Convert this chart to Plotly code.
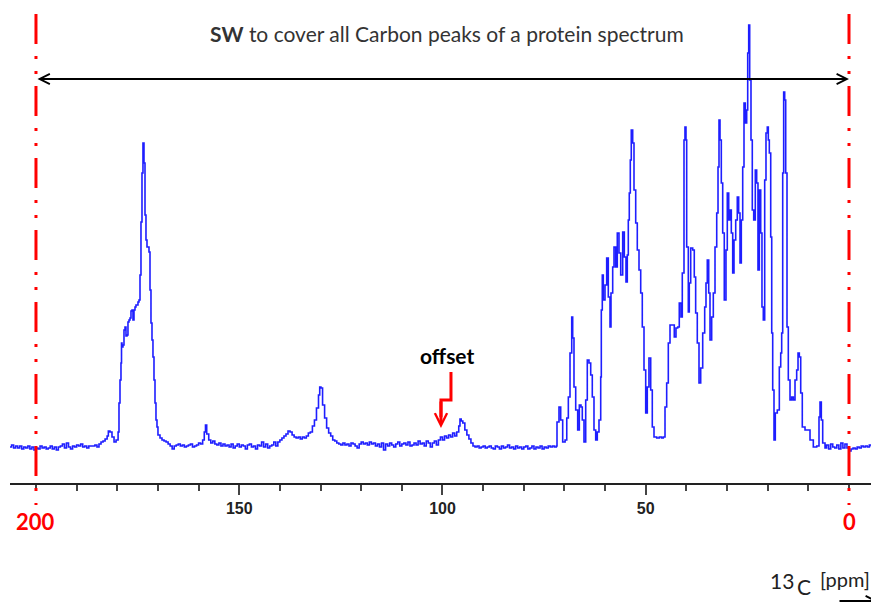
import plotly.graph_objects as go

# ---------------- data ----------------
# Region 1: carbonyl / aromatic region, 206.5 .. 125 ppm
ppm_region1 = [
    206.5, 206.0, 205.5, 205.0, 204.5, 204.0, 203.5, 203.0, 202.5, 202.0, 201.5, 201.0,
    200.5, 200.0, 199.5, 199.0, 198.5, 198.0, 197.5, 197.0, 196.5, 196.0, 195.5, 195.0,
    194.5, 194.0, 193.5, 193.0, 192.5, 192.0, 191.5, 191.0, 190.5, 190.0, 189.5, 189.0,
    188.5, 188.0, 187.5, 187.0, 186.5, 186.0, 185.5, 185.0, 184.5,
    184.0, 183.5, 183.0, 182.5, 182.2, 181.8, 181.3, 180.8, 180.3, 179.8,
    179.58, 179.33, 179.09, 178.96, 178.84, 178.60, 178.35, 178.10, 177.86, 177.61,
    177.37, 177.12, 176.87, 176.63, 176.38, 176.14, 175.89, 175.64, 175.40, 174.91,
    174.66, 174.41, 174.17, 173.92, 173.68, 173.43, 173.18, 172.94, 172.69, 172.20,
    171.95, 171.71, 171.46, 171.22, 170.97, 170.72, 170.48, 170.23, 169.99, 169.49, 169.00,
    168.5, 168.0, 167.5, 167.0, 166.5, 166.0, 165.5, 165.0, 164.5, 164.0, 163.5, 163.0,
    162.5, 162.0, 161.5, 161.0, 160.5, 160.0, 159.5, 159.0, 158.6, 158.3, 158.0, 157.5,
    157.0, 156.5, 156.0, 155.5, 155.0, 154.5, 154.0, 153.5, 153.0, 152.5, 152.0, 151.5,
    151.0, 150.5, 150.0, 149.5, 149.0, 148.5, 148.0, 147.5, 147.0, 146.5, 146.0, 145.5,
    145.0, 144.5, 144.0, 143.5, 143.0, 142.5, 142.0, 141.5, 141.0, 140.5, 140.0, 139.5,
    139.0, 138.5, 138.0, 137.5, 137.0, 136.5, 136.0, 135.5, 135.0, 134.5, 134.0, 133.5,
    133.0, 132.5, 132.0, 131.5, 131.0, 130.5, 130.2, 129.9, 129.5, 129.0, 128.5, 128.0,
    127.5, 127.0, 126.5, 126.0, 125.5, 125.0,
]
int_region1 = [
    0, 2, -1, 1, -1, 1, -2, 0, -1, 1, -2, 0,
    -3, -1, -2, 1, -1, 0, -2, -1, 1, -2, 0, -3,
    0, 1, 3, -1, 4, 0, -2, 1, 0, 2, 1, 3,
    0, 1, -1, 1, 1, 1, 2, 0, 3,
    5, 6, 8, 11, 16, 15, 10, 5, 7, 15,
    44, 67, 84, 104, 100, 102, 117, 120, 111, 112,
    125, 127, 129, 136, 137, 127, 137, 140, 142, 145,
    147, 172, 225, 274, 304, 284, 232, 207, 200, 195,
    157, 124, 107, 90, 67, 44, 27, 20, 12, 9, 7,
    6, 5, 3, 1, -2, 1, 2, 3, 1, 2, 0, 1,
    2, 3, 0, 1, 2, 4, 3, 7, 15, 22, 13, 7,
    4, 6, 3, 2, 4, 1, 3, 1, 2, 0, 3, -1,
    1, 3, 0, 2, 1, -2, 2, 3, 0, 1, -2, 2,
    1, 5, 0, 3, -1, 1, 2, 5, 1, 5, 7, 9,
    11, 13, 16, 15, 12, 10, 9, 10, 8, 10, 9, 11,
    14, 15, 21, 27, 39, 52, 60, 59, 42, 29, 19, 14,
    11, 7, 6, 4, 3, 2,
]

# Region 2: 124.5 .. 72 ppm (noise + small peak near 95 ppm)
ppm_region2 = [
    124.5, 124.0, 123.5, 123.0, 122.5, 122.0, 121.5, 121.0, 120.5, 120.0, 119.5, 119.0,
    118.5, 118.0, 117.5, 117.0, 116.5, 116.0, 115.5, 115.0, 114.5, 114.0, 113.5, 113.0,
    112.5, 112.0, 111.5, 111.0, 110.5, 110.0, 109.5, 109.0, 108.5, 108.0, 107.5, 107.0,
    106.5, 106.0, 105.5, 105.0, 104.5, 104.0, 103.5, 103.0, 102.5, 102.0, 101.5, 101.0,
    100.5, 100.0, 99.5, 99.0, 98.5, 98.0, 97.5, 97.0, 96.5, 96.0, 95.7, 95.4,
    95.0, 94.5, 94.0, 93.5, 93.0, 92.5, 92.0,
    91.5, 91.0, 90.5, 90.0, 89.5, 89.0, 88.5, 88.0, 87.5, 87.0, 86.5, 86.0,
    85.5, 85.0, 84.5, 84.0, 83.5, 83.0, 82.5, 82.0, 81.5, 81.0, 80.5, 80.0,
    79.5, 79.0, 78.5, 78.0, 77.5, 77.0, 76.5, 76.0, 75.5, 75.0, 74.5, 74.0,
    73.5, 73.0, 72.5, 72.0,
]
int_region2 = [
    4, 2, 3, 1, 4, 3, 1, -1, 3, 5, 3, 4,
    2, 5, 3, 4, 1, 3, 0, 4, -3, 3, 1, 4,
    2, 0, 3, 5, 1, 3, 4, 2, 5, 1, 2, 4,
    2, 6, 3, 4, 1, 6, 4, 0, 4, 6, 2, 7,
    10, 7, 11, 9, 12, 10, 14, 11, 15, 21, 28, 26,
    24, 17, 12, 8, 4, 1, 0,
    1, -1, 0, 1, -1, 0, 1, -1, -2, 1, 0, -2,
    1, -1, 0, 2, -1, 0, -2, 1, -1, 0, -2, 0,
    1, -2, -1, 1, -2, 0, -1, 1, -2, 0, -1, 1,
    0, 1, 0, 1,
]

# Region 3: aliphatic region, 71.8 .. -7.5 ppm
ppm_region3 = [
    71.83, 71.34, 70.92, 70.43, 69.84, 69.43, 69.04, 68.63, 68.21, 67.97, 67.65, 67.23,
    66.74, 66.34, 65.93, 65.61, 65.19, 64.77, 64.38, 63.96, 63.54, 63.15, 62.73, 62.31,
    61.92, 61.50, 61.08, 60.93, 60.69, 60.44, 60.02, 59.61, 59.21, 58.79, 58.55, 58.13,
    57.81, 57.39, 57.00, 56.58, 56.16, 55.67, 55.27, 54.86, 54.54, 54.29, 54.05, 53.80,
    53.56, 53.21, 52.89, 52.47, 52.08, 51.66, 51.24, 50.85, 50.43, 50.01, 49.62, 49.21,
    48.78, 48.39, 47.97, 47.30, 46.67, 46.12, 45.68, 45.26, 44.85, 44.45, 44.03, 43.37,
    42.98, 42.56, 42.14, 41.75, 41.33, 41.01, 40.59, 40.35, 40.10, 39.93, 39.53, 39.29,
    38.94, 38.45, 38.06, 37.72, 37.32, 36.90, 36.48, 35.99, 35.50, 35.18, 34.86, 34.51,
    34.19, 33.78, 33.38, 32.96, 32.54, 32.22, 31.98, 31.73, 31.41, 31.07, 30.68, 30.26,
    29.94, 29.59, 29.27, 28.95, 28.61, 28.29, 27.87, 27.48, 27.14, 26.81, 26.49, 26.15,
    25.83, 25.51, 25.17, 24.92, 24.67, 24.43, 24.11, 23.79, 23.44, 23.05, 22.71, 22.39,
    22.06, 21.72, 21.41, 21.08, 20.74, 20.42, 20.10, 19.85, 19.60, 19.26, 19.01, 18.77,
    18.45, 18.13, 17.64, 17.14, 16.80, 16.56, 16.31, 16.07, 15.82, 15.57, 15.25, 14.93,
    14.51, 14.10, 13.70, 13.28, 12.87, 12.54, 12.22, 11.88, 11.49, 10.82, 10.01, 9.59,
    8.78, 7.94, 7.38, 7.13, 6.81, 6.47, 5.90,
    5.5, 5.0, 4.5, 4.0, 3.5, 3.0, 2.5, 2.0, 1.5, 1.0, 0.5, 0.0,
    -0.5, -1.0, -1.5, -2.0, -2.5, -3.0, -3.5, -4.0, -4.5, -5.0, -5.5, -6.0,
    -6.5, -7.0, -7.5,
]
int_region3 = [
    25, 40, 27, 5, 7, 29, 50, 94, 130, 109, 60, 37,
    17, 42, 40, 27, 5, 47, 87, 84, 72, 50, 17, 7,
    15, 27, 70, 137, 172, 147, 162, 189, 150, 120, 154, 180,
    200, 180, 214, 194, 172, 215, 190, 165, 192, 227, 254, 287,
    317, 304, 257, 224, 197, 177, 154, 120, 77, 34, 60, 89,
    57, 20, 10, 9, 10, 9, 10, 40, 64, 104, 122, 122,
    110, 119, 120, 144, 130, 174, 307, 320, 307, 200, 135, 164,
    199, 197, 170, 134, 104, 64, 79, 114, 140, 164, 187, 154,
    107, 130, 154, 200, 234, 280, 327, 307, 264, 214, 147, 197,
    254, 227, 237, 214, 174, 207, 227, 250, 234, 184, 227, 280,
    344, 324, 337, 394, 422, 367, 307, 237, 227, 277, 264, 177,
    257, 214, 140, 127, 267, 314, 320, 307, 294, 210, 114, 57,
    7, 34, 37, 80, 94, 114, 274, 355, 347, 274, 120, 67,
    47, 50, 47, 67, 77, 94, 90, 54, 20, 17, 17, 7,
    0, 1, 30, 45, 27, 4, -1,
    2, -2, 3, 0, -1, 2, -2, 4, -1, 3, -1, -4,
    -2, -1, -2, 0, -1, 1, 0, 1, 0, 2, 1, 3,
    1, 2, 0,
]

major_ticks = [150, 100, 50]
minor_ticks = [200, 190, 180, 170, 160, 150, 140, 130, 120, 110, 100, 90, 80,
               70, 60, 50, 40, 30, 20, 10, 0]
sw_limits = [200, 0]          # spectral width borders (ppm)
offset_ppm = 100              # carrier offset (ppm)

ppm = ppm_region1 + ppm_region2 + ppm_region3
intensity = int_region1 + int_region2 + int_region3

# ---------------- figure ----------------
# The page body has an 8px default margin; the figure is sized so that the
# plot area spans page pixels x 10..879 and y 8..483.
fig = go.Figure()
fig.add_trace(go.Scatter(
    x=ppm, y=intensity, mode="lines",
    line=dict(color="rgb(30,30,255)", width=1.6, shape="hv"),
    hoverinfo="skip", showlegend=False,
))

CAL = "Lato, 'Open Sans', sans-serif"
ARI = "'Liberation Sans', Arial, sans-serif"

PW, PH = 869.0, 475.0   # plot area size in px


def px(x):   # page x pixel -> paper
    return (x - 10) / PW


def py(y):   # page y pixel -> paper
    return (483 - y) / PH


fig.update_layout(
    width=871, height=594,
    margin=dict(l=2, r=0, t=0, b=119, pad=0),
    paper_bgcolor="white", plot_bgcolor="white",
    showlegend=False,
    xaxis=dict(
        range=[206.39, -7.38], autorange=False,
        showgrid=False, zeroline=False,
        showline=True, linecolor="#222", linewidth=2,
        ticks="outside", ticklen=10, tickwidth=2, tickcolor="#444",
        tickmode="array", tickvals=major_ticks,
        ticktext=["<b>%d</b>" % v for v in major_ticks],
        tickfont=dict(family=ARI, size=16, color="#222"),
        minor=dict(ticks="outside", tickmode="array", tickvals=minor_ticks,
                   ticklen=6, tickwidth=2, tickcolor="#444"),
        automargin=False,
    ),
    yaxis=dict(range=[-36, 439], autorange=False, visible=False),
)

# red dash-dot-dot spectral-width borders
for v in sw_limits:
    fig.add_shape(type="line", xref="x", yref="paper",
                  x0=v, x1=v, y0=py(14), y1=py(505),
                  line=dict(color="red", width=3, dash="30px,12px,3px,12px,3px,12px"))

# double arrow covering SW
fig.add_annotation(x=sw_limits[1], y=368, ax=sw_limits[0], ay=368,
                   xref="x", yref="y", axref="x", ayref="y",
                   text="", showarrow=True, arrowside="end+start",
                   arrowhead=5, arrowsize=1, arrowwidth=2, arrowcolor="black",
                   standoff=0, startstandoff=0)

fig.add_annotation(xref="paper", yref="paper", x=px(447.5), y=py(33),
                   xanchor="center", yanchor="middle",
                   text="<b>SW</b> to cover all Carbon peaks of a protein spectrum",
                   showarrow=False, font=dict(family=CAL, size=21, color="#333"))

# offset marker
fig.add_shape(type="path", xref="x", yref="y",
              path="M 97.91,75 V 47 H 100.37 V 30",
              line=dict(color="red", width=3))
fig.add_annotation(x=100.37, y=19, ax=100.37, ay=47,
                   xref="x", yref="y", axref="x", ayref="y",
                   text="", showarrow=True, arrowhead=5, arrowsize=0.8,
                   arrowwidth=3, arrowcolor="red", standoff=0, startstandoff=0)
fig.add_annotation(x=98.9, y=92, xref="x", yref="y", text="<b>offset</b>",
                   xanchor="center", yanchor="middle",
                   showarrow=False, font=dict(family=CAL, size=21, color="black"))

# red border labels
for v in sw_limits:
    fig.add_annotation(x=v, y=py(521), xref="x", yref="paper",
                       xanchor="center", yanchor="middle",
                       text="<b>%d</b>" % v, showarrow=False,
                       font=dict(family=CAL, size=22, color="red"))

# axis title 13C [ppm]
fig.add_annotation(xref="paper", yref="paper", x=px(781.5), y=py(580),
                   xanchor="center", yanchor="middle",
                   text="13", showarrow=False, font=dict(family=CAL, size=21, color="#222"))
fig.add_annotation(xref="paper", yref="paper", x=px(804), y=py(586),
                   xanchor="center", yanchor="middle",
                   text="C", showarrow=False, font=dict(family=CAL, size=21, color="#222"))
fig.add_annotation(xref="paper", yref="paper", x=px(845), y=py(579),
                   xanchor="center", yanchor="middle",
                   text="[ppm]", showarrow=False, font=dict(family=CAL, size=20, color="#222"))
fig.add_annotation(xref="paper", yref="paper", x=px(888), y=py(601),
                   ax=-50, ay=0, axref="pixel", ayref="pixel",
                   text="", showarrow=True, arrowhead=5, arrowsize=1,
                   arrowwidth=2, arrowcolor="black", standoff=0, startstandoff=0)

fig.write_html("out.html")
